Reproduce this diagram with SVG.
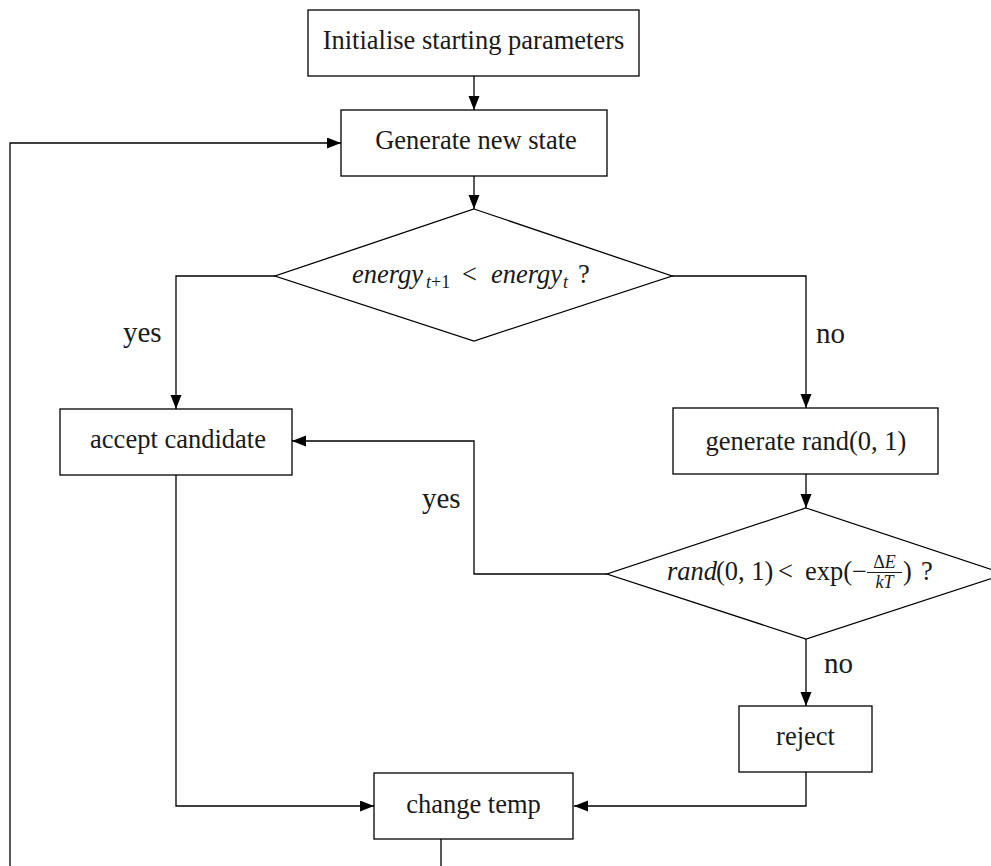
<svg xmlns="http://www.w3.org/2000/svg" width="991" height="866" viewBox="0 0 991 866">
<style>
  .box { fill: #ffffff; stroke: #000000; stroke-width: 1.3; }
  .t { font-family: "Liberation Serif", "DejaVu Serif", serif; font-size: 26.5px; fill: #1a1a1a; text-anchor: middle; }
  .m { font-family: "Liberation Serif", "DejaVu Serif", serif; font-size: 26.5px; fill: #1a1a1a; }
  .i { font-style: italic; }
  .sub { font-size: 18px; }
  .frac { font-size: 18px; }
  .lbl { font-family: "Liberation Serif", "DejaVu Serif", serif; font-size: 29px; fill: #1a1a1a; }
  .edge { fill: none; stroke: #000000; stroke-width: 1.3; }
</style>
<defs>
  <marker id="arr" markerUnits="userSpaceOnUse" markerWidth="15" markerHeight="12" refX="14" refY="5.5" orient="auto">
    <path d="M0,0 L14,5.5 L0,11 Z" fill="#000000"/>
  </marker>
</defs>
<rect width="991" height="866" fill="#ffffff"/>

<g id="connectors">
  <path class="edge" d="M474,76 V110" marker-end="url(#arr)"/>
  <path class="edge" d="M441,839 V900 H10 V143 H341" marker-end="url(#arr)"/>
  <path class="edge" d="M474,176 V209" marker-end="url(#arr)"/>
  <path class="edge" d="M275,276 H176 V409" marker-end="url(#arr)"/>
  <path class="edge" d="M672,276 H806 V408" marker-end="url(#arr)"/>
  <path class="edge" d="M806,474 V508" marker-end="url(#arr)"/>
  <path class="edge" d="M607,574 H474 V441 H292" marker-end="url(#arr)"/>
  <path class="edge" d="M806,639 V706" marker-end="url(#arr)"/>
  <path class="edge" d="M806,772 V806 H574" marker-end="url(#arr)"/>
  <path class="edge" d="M176,475 V806 H374" marker-end="url(#arr)"/>
  <text class="lbl" x="123" y="342">yes</text>
  <text class="lbl" x="816" y="343">no</text>
  <text class="lbl" x="422" y="508">yes</text>
  <text class="lbl" x="824" y="673">no</text>
</g>

<g id="init">
  <rect class="box" x="308" y="10" width="331" height="66"/>
  <text class="t" x="473.5" y="49">Initialise starting parameters</text>
</g>

<g id="generate">
  <rect class="box" x="341" y="110" width="266" height="66"/>
  <text class="t" x="476" y="149">Generate new state</text>
</g>

<g id="decision1">
  <polygon class="box" points="474,209 672,276 474,341 275,276"/>
  <text class="m" y="283">
    <tspan class="i" x="352">energy</tspan><tspan class="sub i" x="426" dy="5">t</tspan><tspan class="sub">+1</tspan><tspan x="462" dy="-5">&lt;</tspan><tspan class="i" x="491">energy</tspan><tspan class="sub i" x="563" dy="5">t</tspan><tspan x="578" dy="-5">?</tspan>
  </text>
</g>

<g id="accept">
  <rect class="box" x="60" y="409" width="232" height="66"/>
  <text class="t" x="178" y="448">accept candidate</text>
</g>

<g id="genrand">
  <rect class="box" x="673" y="408" width="265" height="66"/>
  <text class="t" x="806" y="450">generate rand(0, 1)</text>
</g>

<g id="decision2">
  <polygon class="box" points="806,508 1005,574 806,639 607,574"/>
  <text class="m" y="580">
    <tspan class="i" x="667">rand</tspan><tspan x="716">(0, 1)</tspan><tspan x="778">&lt;</tspan><tspan x="805">exp(−</tspan><tspan x="903">)</tspan><tspan x="921">?</tspan>
  </text>
  <line x1="867" y1="572.5" x2="902" y2="572.5" stroke="#1a1a1a" stroke-width="1"/>
  <text class="m frac" x="884.5" y="568" text-anchor="middle">Δ<tspan class="i">E</tspan></text>
  <text class="m frac i" x="884.5" y="588" text-anchor="middle">kT</text>
</g>

<g id="reject">
  <rect class="box" x="739" y="706" width="133" height="66"/>
  <text class="t" x="805.5" y="745">reject</text>
</g>

<g id="changetemp">
  <rect class="box" x="374" y="773" width="199" height="66"/>
  <text class="t" x="473.5" y="813">change temp</text>
</g>
</svg>
